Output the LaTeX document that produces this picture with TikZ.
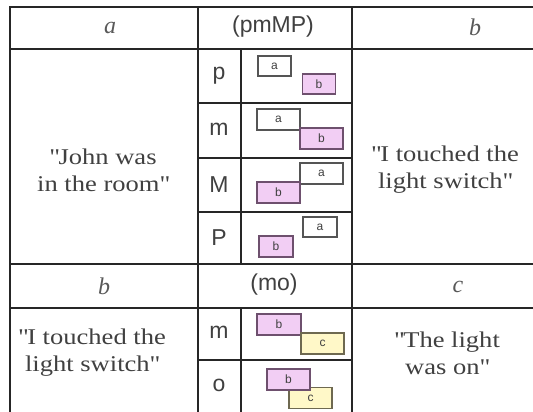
\documentclass[tikz,border=0pt]{standalone}
\usepackage{fontspec}
\setmainfont{Liberation Serif}
\setsansfont{Liberation Sans}
\newfontfamily\quotefont[FakeStretch=1.18]{Liberation Serif}
\definecolor{pinkfill}{RGB}{242,206,244}
\definecolor{yelfill}{RGB}{255,248,200}
\definecolor{pinkline}{RGB}{110,80,110}
\definecolor{yelline}{RGB}{110,105,80}
\definecolor{grayline}{RGB}{85,85,85}
\newcommand\qt{\textquotedbl}
\begin{document}
\begin{tikzpicture}[x=1pt,y=-1pt,
  gridline/.style={line width=1.7pt, draw=black!85},
  hdr/.style={font=\fontsize{24}{24}\selectfont\itshape, text=black!65, inner sep=0pt},
  rel/.style={font=\sffamily\fontsize{23}{23}\selectfont, text=black!75, inner sep=0pt},
  quotetext/.style={font=\quotefont\fontsize{22.5}{27}\selectfont, text=black!75, align=center, inner sep=0pt},
  ibox/.style={line width=1.1pt, inner sep=0pt, font=\sffamily\fontsize{12}{12}\selectfont, text=black!75},
  abox/.style={ibox, draw=grayline, fill=white},
  bbox/.style={ibox, draw=pinkline, fill=pinkfill},
  cbox/.style={ibox, draw=yelline, fill=yelfill},
]
\useasboundingbox (0,0) rectangle (533,412);
\clip (0,0) rectangle (533,412);
% table grid
\draw[gridline] (10,420) -- (10,7) -- (540,7);
\draw[gridline] (198,7) -- (198,420);
\draw[gridline] (352,7) -- (352,420);
\draw[gridline] (10,49) -- (540,49);
\draw[gridline] (10,264) -- (540,264);
\draw[gridline] (10,308) -- (540,308);
\draw[gridline] (241,49) -- (241,264);
\draw[gridline] (241,308) -- (241,420);
\draw[gridline] (198,103) -- (352,103);
\draw[gridline] (198,158) -- (352,158);
\draw[gridline] (198,212) -- (352,212);
\draw[gridline] (198,360) -- (352,360);
% headers
\node[hdr] (h1) at (110,28) {a};
\node[rel] (h2) at (273,27) {(pmMP)};
\node[hdr] (h3) at (475,27) {b};
\node[hdr] (h4) at (104,286) {b};
\node[rel] (h5) at (274,285) {(mo)};
\node[hdr] (h6) at (458,287) {c};
% relation letters
\node[rel] (rp) at (219,76) {p};
\node[rel] (rm) at (219,129) {m};
\node[rel] (rM) at (219,185) {M};
\node[rel] (rP) at (219,238) {P};
\node[rel] (rm2) at (219,332) {m};
\node[rel] (ro) at (219,385) {o};
% quotes
\node[quotetext] (q1) at (103,170) {\qt John was\\in the room\qt};
\node[quotetext] (q2) at (445,170) {\qt I touched the\\light switch\qt};
\node[quotetext] (q3) at (92,353) {\qt I touched the\\light switch\qt};
\node[quotetext] (q4) at (447,353) {\qt The light\\was on\qt};
% p row
\node[abox, minimum width=33pt, minimum height=20pt] (pa) at (274.5,66) {a};
\node[bbox, minimum width=33pt, minimum height=20pt] (pb) at (319,84) {b};
% m row
\node[abox, minimum width=43pt, minimum height=21pt] (ma) at (278.5,119.5) {a};
\node[bbox, minimum width=43pt, minimum height=21pt] (mb) at (321.5,138.5) {b};
% M row
\node[abox, minimum width=43pt, minimum height=21pt] (Ma) at (321.5,173.5) {a};
\node[bbox, minimum width=43pt, minimum height=21pt] (Mb) at (278.5,192.5) {b};
% P row
\node[abox, minimum width=34pt, minimum height=20pt] (Pa) at (320,227) {a};
\node[bbox, minimum width=34pt, minimum height=21pt] (Pb) at (276,246.5) {b};
% mo m row
\node[bbox, minimum width=44pt, minimum height=21pt] (mob) at (279,324.5) {b};
\node[cbox, minimum width=43pt, minimum height=21pt] (moc) at (322.5,343.5) {c};
% mo o row
\node[cbox, minimum width=43pt, minimum height=21pt] (ooc) at (310.5,398) {c};
\node[bbox, minimum width=43pt, minimum height=21pt] (oob) at (288.5,379.5) {b};
\end{tikzpicture}
\end{document}
